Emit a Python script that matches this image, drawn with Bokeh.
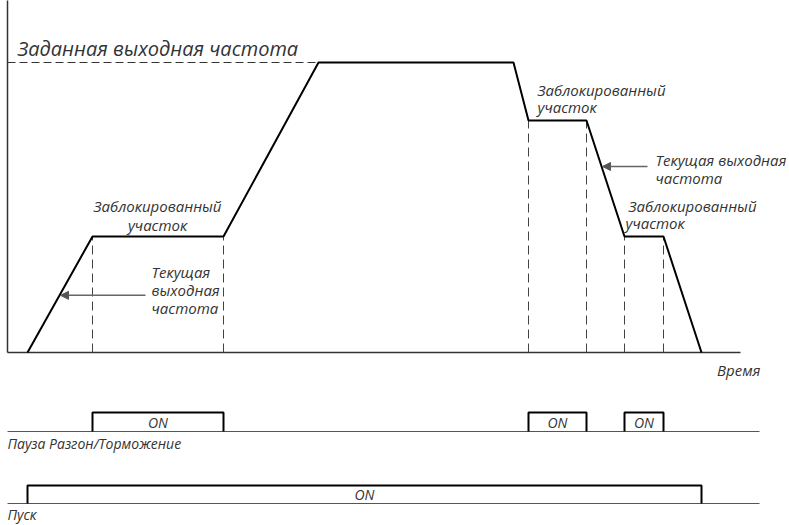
from bokeh.plotting import figure
from bokeh.models import Range1d, Arrow, NormalHead
from bokeh.core.properties import value
from bokeh.embed import file_html
from bokeh.resources import INLINE

# ---- data -------------------------------------------------------------
# Output-frequency profile: time (arbitrary units), frequency (% of setpoint)
time = [20, 85, 216, 311, 506, 521, 579, 617, 656, 694]
freq = [0, 40, 40, 100, 100, 80, 80, 40, 40, 0]
setpoint = 100

# Acceleration/deceleration pause ("blocked") intervals
pause_start = [85, 521, 617]
pause_end = [216, 579, 656]
pause_level = [40, 80, 40]

time_axis_end = 733
signal_end = 752

title_text = "Заданная выходная частота"
blocked_lines = ["Заблокированный", "участок"]
current_lines = ["Текущая", "выходная", "частота"]
current_lines_2 = ["Текущая выходная", "частота"]
time_label = "Время"
on_label = "ON"
pause_label = "Пауза Разгон/Торможение"
run_label = "Пуск"

# ---- figure -----------------------------------------------------------
FONT = value("Open Sans")
TXT = "#333333"

p = figure(width=789, height=525, x_range=Range1d(-7, 782),
           y_range=Range1d(-59.655, 121.379),
           output_backend="svg", toolbar_location=None,
           x_axis_type=None, y_axis_type=None, min_border=0)
p.outline_line_color = None
p.background_fill_color = "white"
p.border_fill_color = "white"
p.extra_y_ranges = {"pause": Range1d(-4.947, 22.684),
                    "run": Range1d(-1.222, 27.944)}


def label(x, y, t, align="left", size="15px", rng="default"):
    p.text(x=[x], y=[y], text=[t], text_font=FONT, text_font_style="italic",
           text_font_size=size, text_color=TXT, text_align=align,
           text_baseline="middle", y_range_name=rng)


# axes of the frequency diagram
p.segment(x0=[0, 0], y0=[0, 0], x1=[time_axis_end, 0], y1=[0, 130],
          line_color="#333333", line_width=1.5)

# setpoint dashed line
i_sp = freq.index(setpoint)
p.line([0, time[i_sp]], [setpoint, setpoint], line_color="#333333",
       line_width=1, line_dash="8 4")

# vertical dashed lines at blocked intervals
vx = pause_start + pause_end
vy = pause_level + pause_level
p.segment(x0=vx, y0=[0] * len(vx), x1=vx, y1=vy, line_color="#444444",
          line_width=1, line_dash="9 5")

# output frequency curve
p.line(time, freq, line_color="black", line_width=2)

# texts on the diagram
label(10, 104.83, title_text, size="20px")
label(150, 50.43, blocked_lines[0], align="center")
label(150, 43.88, blocked_lines[1], align="center")
for k, t in enumerate(current_lines):
    label(144, 27.67 - 6.2 * k, t)
label(530, 90.43, blocked_lines[0])
label(530, 84.57, blocked_lines[1])
label(648, 66.29, current_lines_2[0])
label(648, 60.09, current_lines_2[1])
label(621, 50.43, blocked_lines[0])
label(618, 44.57, blocked_lines[1])
label(753, -6.12, time_label, align="right")

for xs, xe, ys in [(138, 53, 19.7), (640, 595, 64.14)]:
    p.add_layout(Arrow(end=NormalHead(size=8, fill_color="#555555",
                                      line_color="#555555", line_width=1),
                       x_start=xs, y_start=ys, x_end=xe, y_end=ys,
                       line_color="#666666", line_width=1.5))

# ---- pause signal -----------------------------------------------------
p.line([0, signal_end], [0, 0], y_range_name="pause", line_color="#555555",
       line_width=1)
p.multi_line(xs=[[s, s, e, e] for s, e in zip(pause_start, pause_end)],
             ys=[[0, 1, 1, 0] for _ in pause_start], y_range_name="pause",
             line_color="black", line_width=2)
for s, e in zip(pause_start, pause_end):
    label((s + e) / 2, 0.474, on_label, align="center", size="14px", rng="pause")
label(0, -0.632, pause_label, size="14px", rng="pause")

# ---- run signal -------------------------------------------------------
run_start, run_end = time[0], time[-1]
p.line([0, signal_end], [0, 0], y_range_name="run", line_color="#555555",
       line_width=1)
p.multi_line(xs=[[run_start, run_start, run_end, run_end]], ys=[[0, 1, 1, 0]],
             y_range_name="run", line_color="black", line_width=2)
label((run_start + run_end) / 2, 0.5, on_label, align="center", size="14px",
      rng="run")
label(0, -0.611, run_label, size="14px", rng="run")

open("out.html", "w").write(file_html(p, INLINE))
